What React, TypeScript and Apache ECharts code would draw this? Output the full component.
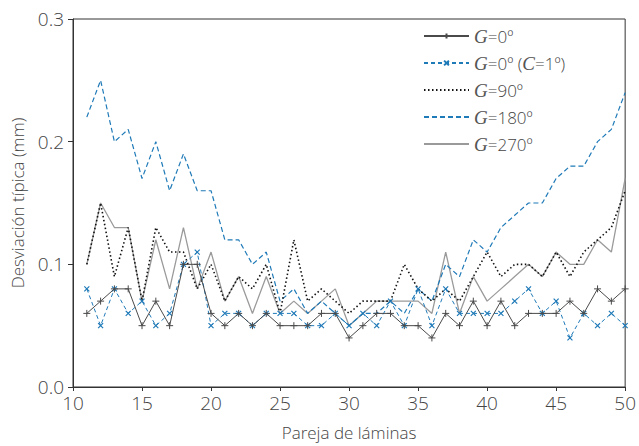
import React, { useEffect, useRef } from "react";
import * as echarts from "echarts";

const pairs = [11,12,13,14,15,16,17,18,19,20,21,22,23,24,25,26,27,28,29,30,31,32,33,34,35,36,37,38,39,40,41,42,43,44,45,46,47,48,49,50];

const g0 = [0.06,0.07,0.08,0.08,0.05,0.07,0.05,0.10,0.10,0.06,0.05,0.06,0.05,0.06,0.05,0.05,0.05,0.06,0.06,0.04,0.05,0.06,0.06,0.05,0.05,0.04,0.06,0.05,0.07,0.05,0.07,0.05,0.06,0.06,0.06,0.07,0.06,0.08,0.07,0.08];
const g0c1 = [0.08,0.05,0.08,0.06,0.07,0.05,0.06,0.10,0.11,0.05,0.06,0.06,0.05,0.06,0.06,0.06,0.05,0.05,0.06,0.05,0.06,0.05,0.07,0.05,0.08,0.05,0.08,0.06,0.06,0.06,0.06,0.07,0.08,0.06,0.07,0.04,0.06,0.05,0.06,0.05];
const g90 = [0.10,0.15,0.09,0.13,0.07,0.13,0.11,0.11,0.08,0.10,0.07,0.09,0.08,0.10,0.06,0.12,0.07,0.08,0.07,0.06,0.07,0.07,0.07,0.10,0.08,0.07,0.08,0.07,0.09,0.11,0.09,0.10,0.10,0.09,0.11,0.09,0.11,0.12,0.13,0.16];
const g180 = [0.22,0.25,0.20,0.21,0.17,0.20,0.16,0.19,0.16,0.16,0.12,0.12,0.10,0.11,0.07,0.08,0.06,0.07,0.06,0.05,0.06,0.06,0.07,0.06,0.08,0.07,0.10,0.09,0.12,0.11,0.13,0.14,0.15,0.15,0.17,0.18,0.18,0.20,0.21,0.24];
const g270 = [0.10,0.15,0.13,0.13,0.07,0.12,0.08,0.13,0.08,0.11,0.07,0.09,0.06,0.09,0.06,0.07,0.06,0.07,0.08,0.05,0.06,0.07,0.07,0.07,0.07,0.06,0.11,0.06,0.09,0.07,0.08,0.09,0.10,0.09,0.11,0.10,0.10,0.12,0.11,0.17];

const seriesNames = ["G=0º", "G=0º (C=1º)", "G=90º", "G=180º", "G=270º"];
const xTicks = [10, 15, 20, 25, 30, 35, 40, 45, 50];

const BLUE = "#1f7ab8";
const DARK = "#4a4a4a";
const GRAY = "#9a9a9a";
const FONT = "'Open Sans', Lato, sans-serif";
const NOFILL = { color: "rgba(0,0,0,0)", borderWidth: 0 };

const PLUS = "path://M5,0L5,10M0,5L10,5";
const CROSS = "path://M0,0L10,10M0,10L10,0";

function zip(vals: number[]) {
  return pairs.map((p, i) => [p, vals[i]]);
}

export default function App() {
  const ref = useRef<HTMLDivElement>(null);
  useEffect(() => {
    if (!ref.current) return;
    const chart = echarts.init(ref.current, null, { renderer: "svg" });
    chart.setOption({
      animation: false,
      backgroundColor: "#fff",
      grid: {
        left: 73,
        right: 11,
        top: 19,
        bottom: 56,
        show: true,
        borderColor: "#333",
        borderWidth: 1,
        backgroundColor: "transparent",
      },
      legend: {
        orient: "vertical",
        left: 418,
        top: 21,
        itemWidth: 45,
        itemHeight: 6,
        itemGap: 7,
        data: seriesNames,
        formatter: (name: string) => name.replace(/([GC])=/g, "{i|$1}="),
        textStyle: {
          fontFamily: FONT,
          fontWeight: 300,
          fontSize: 17,
          lineHeight: 20,
          color: "#444",
          rich: {
            i: {
              fontFamily: "'Liberation Serif', 'DejaVu Serif', serif",
              fontStyle: "italic",
              fontWeight: 300,
              fontSize: 19,
              color: "#555",
            },
          },
        },
      },
      xAxis: {
        type: "value",
        min: 10,
        max: 50,
        interval: 5,
        name: "Pareja de láminas",
        nameLocation: "middle",
        nameGap: 37,
        nameTextStyle: { fontFamily: FONT, fontWeight: 300, fontSize: 17, color: "#444" },
        axisLine: { show: true, lineStyle: { color: "#333", width: 1 } },
        axisTick: { show: true, length: 4, inside: false, lineStyle: { color: "#333" } },
        axisLabel: {
          fontFamily: FONT,
          fontWeight: 300,
          fontSize: 19,
          color: "#444",
          margin: 6,
          customValues: xTicks,
        },
        splitLine: { show: false },
      },
      yAxis: {
        type: "value",
        min: 0,
        max: 0.3,
        interval: 0.1,
        name: "Desviación típica (mm)",
        nameLocation: "middle",
        nameGap: 47,
        nameTextStyle: { fontFamily: FONT, fontWeight: 300, fontSize: 17, color: "#444" },
        axisLine: { show: true, lineStyle: { color: "#333", width: 1 } },
        axisTick: { show: true, length: 5, inside: false, lineStyle: { color: "#333" } },
        axisLabel: {
          fontFamily: FONT,
          fontWeight: 300,
          fontSize: 19,
          color: "#444",
          margin: 9,
          formatter: (v: number) => v.toFixed(1),
        },
        splitLine: { show: false },
      },
      series: [
        {
          name: seriesNames[0],
          type: "line",
          data: zip(g0),
          symbol: PLUS,
          symbolSize: 7,
          showAllSymbol: true,
          lineStyle: { color: DARK, width: 1, type: "solid" },
          itemStyle: { color: "none", borderColor: DARK, borderWidth: 1 },
          z: 5,
        },
        {
          name: seriesNames[1],
          type: "line",
          data: zip(g0c1),
          symbol: CROSS,
          symbolSize: 5,
          showAllSymbol: true,
          lineStyle: { color: BLUE, width: 1, type: [4, 3] },
          itemStyle: { color: "none", borderColor: BLUE, borderWidth: 1.2 },
          z: 4,
        },
        {
          name: seriesNames[2],
          type: "line",
          data: zip(g90),
          symbol: "none",
          lineStyle: { color: "#111", width: 1.6, type: [1.5, 2.5] },
          itemStyle: NOFILL,
          z: 3,
        },
        {
          name: seriesNames[3],
          type: "line",
          data: zip(g180),
          symbol: "none",
          lineStyle: { color: BLUE, width: 1.2, type: [5, 3] },
          itemStyle: NOFILL,
          z: 2,
        },
        {
          name: seriesNames[4],
          type: "line",
          data: zip(g270),
          symbol: "none",
          lineStyle: { color: GRAY, width: 1.3, type: "solid" },
          itemStyle: NOFILL,
          z: 1,
        },
      ],
    });
    return () => chart.dispose();
  }, []);
  return (
    <div
      ref={ref}
      style={{ position: "fixed", left: 0, top: 0, width: 639, height: 446, background: "#fff" }}
    />
  );
}
